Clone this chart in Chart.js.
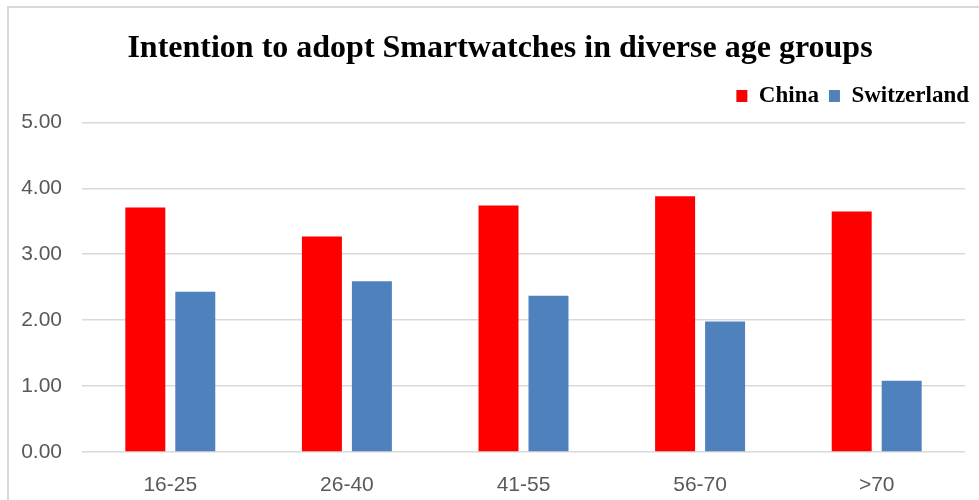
<!DOCTYPE html>
<html>
<head>
<meta charset="utf-8">
<script src="https://cdn.jsdelivr.net/npm/chart.js@4/dist/chart.umd.min.js"></script>
<style>
  html, body { margin: 0; padding: 0; background: #ffffff; overflow: hidden; }
  #wrap { position: relative; width: 979px; height: 500px; }
  #frame {
    position: absolute; left: 7px; top: 6px; width: 990px; height: 510px;
    border-left: 2px solid #d9d9d9; border-top: 2px solid #d9d9d9;
  }
  canvas { position: absolute; left: 0; top: 0; }
</style>
</head>
<body>
<div id="wrap">
  <div id="frame"></div>
  <canvas id="chart" width="979" height="500"></canvas>
</div>
<script>
// Age groups on the x axis
const ageGroups = ['16-25', '26-40', '41-55', '56-70', '>70'];
// Mean intention scores per country
const chinaScores = [3.71, 3.27, 3.74, 3.88, 3.65];
const switzerlandScores = [2.43, 2.59, 2.37, 1.98, 1.08];
// Value axis range
const yMin = 0;
const yMax = 5;
const yStep = 1;

const tickFont = { family: "'Liberation Sans', Arial, sans-serif", size: 21 };
const serifBold = "'Liberation Serif', 'Times New Roman', serif";

// Centre the title over the framed area rather than the whole canvas
const titleOffset = {
  id: 'titleOffset',
  afterLayout(chart) {
    if (chart.titleBlock) chart.titleBlock.left = 21;
  }
};

new Chart(document.getElementById('chart'), {
  type: 'bar',
  plugins: [titleOffset],
  data: {
    labels: ageGroups,
    datasets: [
      {
        label: 'China',
        data: chinaScores,
        backgroundColor: '#ff0000',
        categoryPercentage: 0.566,
        barPercentage: 0.8
      },
      {
        label: 'Switzerland',
        data: switzerlandScores,
        backgroundColor: '#4f81bd',
        categoryPercentage: 0.566,
        barPercentage: 0.8
      }
    ]
  },
  options: {
    responsive: false,
    animation: false,
    devicePixelRatio: 1,
    layout: { padding: { left: 0, right: 0, top: 0, bottom: 0 } },
    plugins: {
      title: {
        display: true,
        text: 'Intention to adopt Smartwatches in diverse age groups',
        color: '#000000',
        font: { family: serifBold, size: 32, weight: 'bold', lineHeight: 1.2 },
        padding: { top: 30, bottom: 6 }
      },
      legend: {
        display: true,
        position: 'top',
        align: 'end',
        labels: {
          color: '#000000',
          font: { family: serifBold, size: 23, weight: 'bold' },
          boxWidth: 11,
          boxHeight: 12,
          padding: 10
        }
      },
      // thin spacer between legend and plot area
      subtitle: {
        display: true,
        text: '',
        weight: 500,
        font: { size: 1, lineHeight: 1 },
        padding: { top: 0, bottom: 4 }
      },
      tooltip: { enabled: false }
    },
    scales: {
      x: {
        grid: { display: false, drawTicks: false },
        border: { display: false },
        ticks: { color: '#595959', font: tickFont, padding: 21 },
        afterFit: (s) => { s.height = 48; }
      },
      y: {
        min: yMin,
        max: yMax,
        grid: { color: '#d9d9d9', lineWidth: 1.6, drawTicks: false },
        border: { display: false },
        ticks: {
          stepSize: yStep,
          color: '#595959',
          font: tickFont,
          padding: 20,
          callback: (v) => Number(v).toFixed(2)
        },
        afterFit: (s) => { s.width = 82; }
      },
      // empty right-hand margin beside the plot
      yRight: {
        position: 'right',
        min: yMin,
        max: yMax,
        grid: { display: false, drawTicks: false },
        border: { display: false },
        ticks: { display: false },
        afterFit: (s) => { s.width = 14; }
      }
    }
  }
});
</script>
</body>
</html>
